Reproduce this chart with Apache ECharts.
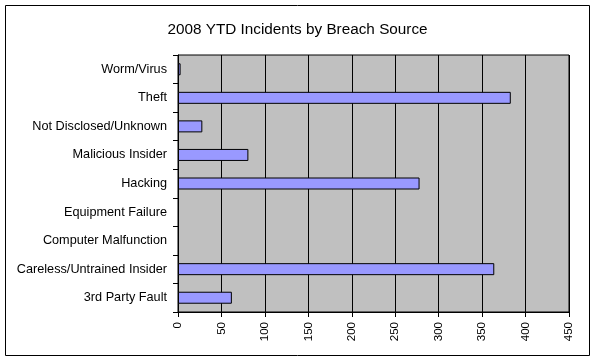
<!DOCTYPE html>
<html><head><meta charset="utf-8">
<script src="https://cdn.jsdelivr.net/npm/echarts@6/dist/echarts.min.js"></script>
<style>html,body{margin:0;padding:0;background:#fff}#c{width:595px;height:361px}</style>
</head><body><div id="c"></div>
<script>
var categories = ["3rd Party Fault","Careless/Untrained Insider","Computer Malfunction","Equipment Failure","Hacking","Malicious Insider","Not Disclosed/Unknown","Theft","Worm/Virus"];
var incidents = [62, 364, 0, 0, 278, 81, 28, 383, 3];
var xTicks = {min: 0, max: 450, interval: 50};
var barData = incidents.map(function (v) {
  return v === 0 ? {value: v, itemStyle: {borderWidth: 0}} : v;
});
var chart = echarts.init(document.getElementById('c'), null, {renderer: 'canvas'});
chart.setOption({
  animation: false,
  backgroundColor: '#fff',
  title: {text: '2008 YTD Incidents by Breach Source', left: 'center', top: 17,
    textStyle: {fontFamily: 'Liberation Sans, Arial', fontSize: 15.3, fontWeight: 'normal', color: '#000'}},
  graphic: [{type: 'rect', shape: {x: 5.5, y: 5.5, width: 584, height: 350}, style: {fill: 'none', stroke: '#000', lineWidth: 1}, z: -10}],
  grid: {left: 178, right: 26, top: 55, bottom: 49, show: true, backgroundColor: '#C0C0C0', borderColor: '#000', borderWidth: 1},
  xAxis: {type: 'value', min: xTicks.min, max: xTicks.max, interval: xTicks.interval,
    axisLine: {show: true, lineStyle: {color: '#000'}}, axisTick: {show: true, length: 5, lineStyle: {color: '#000'}},
    splitLine: {show: true, lineStyle: {color: '#000', width: 1}},
    axisLabel: {rotate: 90, color: '#000', fontFamily: 'Liberation Sans, Arial', fontSize: 11.5, margin: 10}},
  yAxis: {type: 'category', data: categories,
    axisLine: {show: true, lineStyle: {color: '#000'}}, axisTick: {show: true, length: 5, lineStyle: {color: '#000'}},
    axisLabel: {color: '#000', fontFamily: 'Liberation Sans, Arial', fontSize: 12.7, margin: 11}},
  series: [{type: 'bar', data: barData, barWidth: 12,
    itemStyle: {color: '#9999FF', borderColor: '#000', borderWidth: 1}}]
});
</script></body></html>
